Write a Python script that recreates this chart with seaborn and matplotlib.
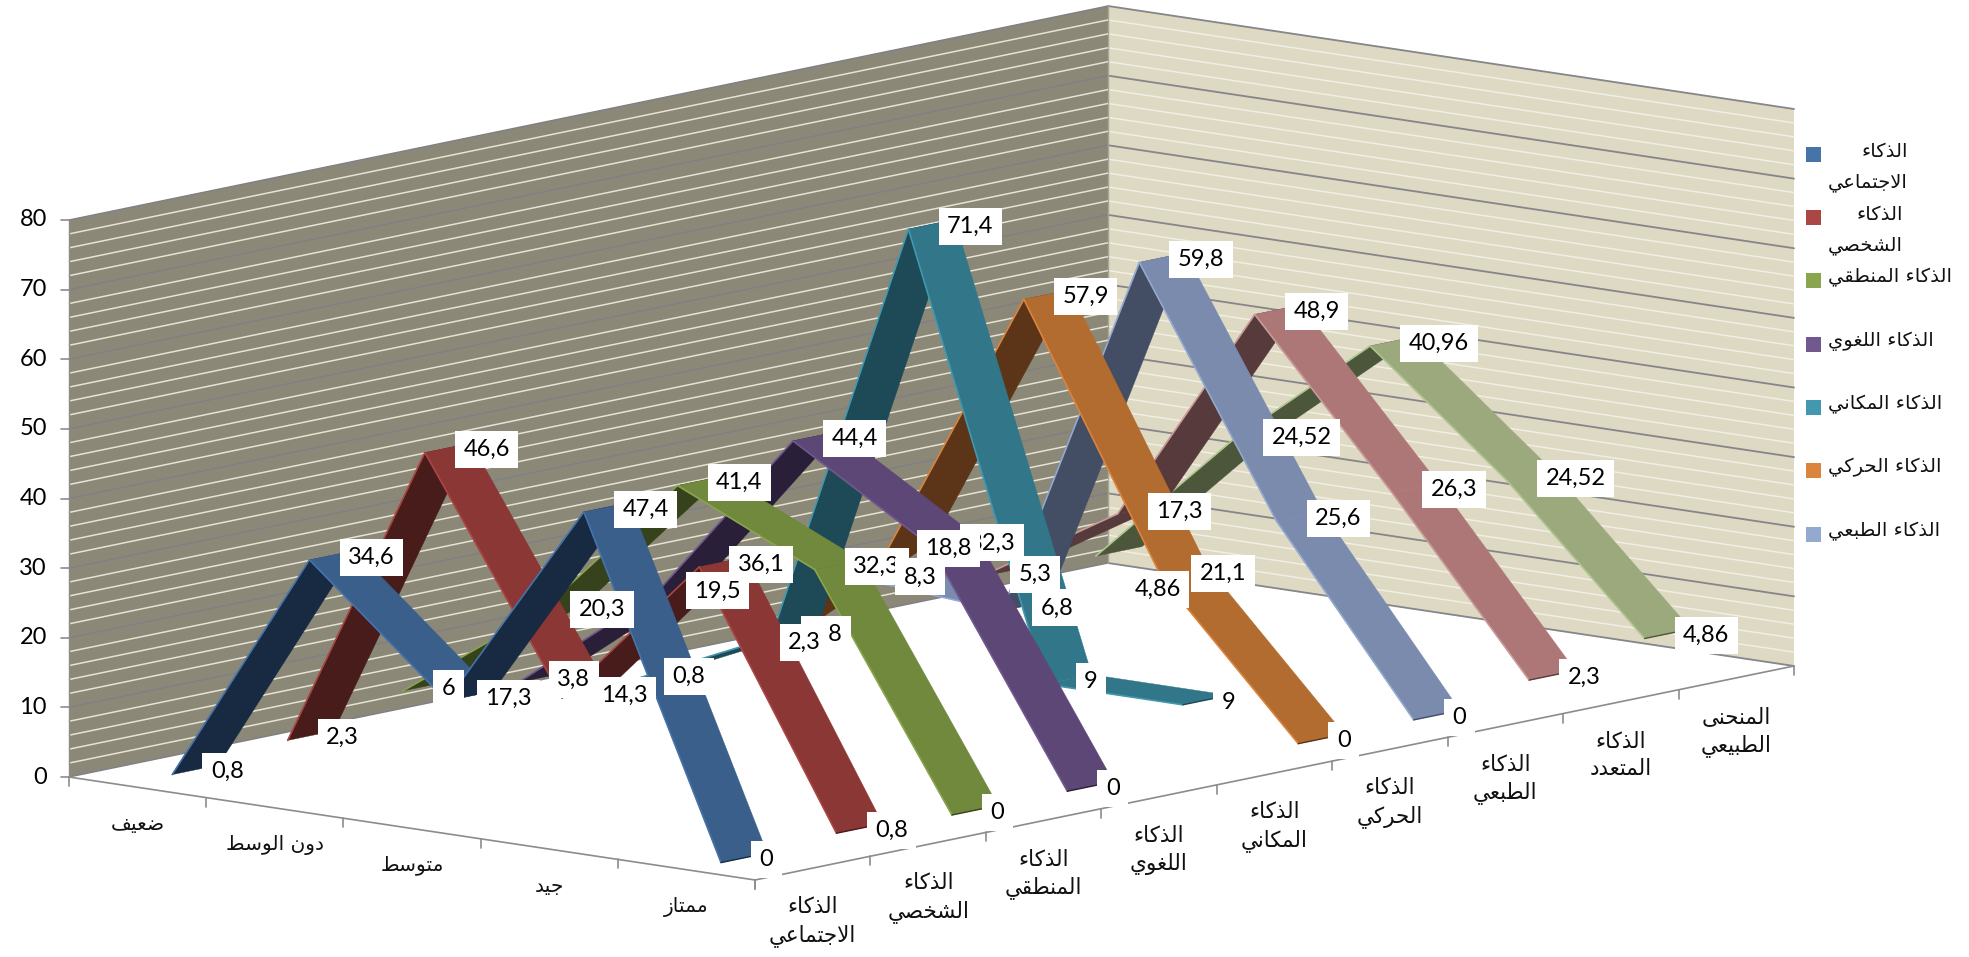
import unicodedata
import numpy as np
import matplotlib
matplotlib.use("Agg")
import matplotlib.pyplot as plt
from matplotlib.patches import Polygon, Rectangle
import seaborn as sns

# ---------- data ----------
categories = ["ضعيف", "دون الوسط", "متوسط", "جيد", "ممتاز"]
series_names = ["الذكاء\nالاجتماعي", "الذكاء\nالشخصي", "الذكاء\nالمنطقي", "الذكاء\nاللغوي",
                "الذكاء\nالمكاني", "الذكاء\nالحركي", "الذكاء\nالطبعي", "الذكاء\nالمتعدد",
                "المنحنى\nالطبيعي"]
legend_names = ["الذكاء\nالاجتماعي", "الذكاء\nالشخصي", "الذكاء المنطقي", "الذكاء اللغوي",
                "الذكاء المكاني", "الذكاء الحركي", "الذكاء الطبعي"]
social = [0.8, 34.6, 17.3, 47.4, 0]
personal = [2.3, 46.6, 14.3, 36.1, 0.8]
logical = [6, 20.3, 41.4, 32.3, 0]
linguistic = [3.8, 19.5, 44.4, 32.3, 0]
spatial = [0.8, 9.8, 71.4, 9, 9]
kinesthetic = [2.3, 18.8, 57.9, 21.1, 0]
natural = [8.3, 6.8, 59.8, 25.6, 0]
multiple = [5.3, 17.3, 48.9, 26.3, 2.3]
normal_curve = [4.86, 24.52, 40.96, 24.52, 4.86]
all_series = [social, personal, logical, linguistic, spatial, kinesthetic, natural, multiple, normal_curve]

# ---------- colours ----------
edge_cols = ["#4674A8", "#AA4643", "#89A54E", "#71588F", "#4198AF", "#DB843D", "#93A9CF", "#C99A98", "#AFC68F"]
lit_cols = ["#3A5F8B", "#8A3735", "#71893C", "#5D4777", "#317689", "#B36C30", "#7A8BAD", "#AE7777", "#9BA97C"]
dark_cols = ["#182A42", "#471C1A", "#36421C", "#2A1F38", "#1D4A56", "#5C3417", "#434D63", "#573A3B", "#4C563B"]

# ---------- layout ----------
W, H = 1969, 957
ORIGIN = np.array([69.0, 777.0])
AXIS_X = np.array([686.0, 103.0])    # along the category axis
AXIS_Y = np.array([1039.0, -214.0])  # along the series axis
PX_PER_UNIT = 557.0 / 80.0           # vertical pixels per value unit
YMAX = 80
RIBBON_HALF = 0.4 / 9 / 2
LABEL_NUDGE = {(8, 0): (0, 36)}
NO_LEFT_JOIN = set("اأإآدذرزوؤةىء")


def proj(x, y, z=0.0):
    p = ORIGIN + AXIS_X * x + AXIS_Y * y
    return np.array([p[0], p[1] - PX_PER_UNIT * z])


def shape_line(s):
    """Contextual Arabic forms in visual order, as matplotlib has no shaping."""
    out = []
    i, n = 0, len(s)
    is_ar = lambda c: "\u0621" <= c <= "\u064a"
    while i < n:
        c = s[i]
        if not is_ar(c):
            out.append(c)
            i += 1
            continue
        joins_prev = i > 0 and is_ar(s[i - 1]) and s[i - 1] not in NO_LEFT_JOIN and c != "ء"
        if c == "ل" and i + 1 < n and s[i + 1] == "ا":
            kind = "FINAL" if joins_prev else "ISOLATED"
            out.append(unicodedata.lookup(f"ARABIC LIGATURE LAM WITH ALEF {kind} FORM"))
            i += 2
            continue
        joins_next = i + 1 < n and is_ar(s[i + 1]) and c not in NO_LEFT_JOIN and s[i + 1] != "ء"
        kind = {(0, 0): "ISOLATED", (1, 0): "FINAL", (0, 1): "INITIAL", (1, 1): "MEDIAL"}[(int(joins_prev), int(joins_next))]
        out.append(unicodedata.lookup(f"{unicodedata.name(c)} {kind} FORM"))
        i += 1
    return "".join(reversed(out))


def shape(s):
    return "\n".join(shape_line(l) for l in s.split("\n"))


sns.set_theme(style="white")
plt.rcParams["font.family"] = ["Lato", "DejaVu Sans"]

fig = plt.figure(figsize=(W / 100, H / 100), dpi=100)
ax = fig.add_axes([0, 0, 1, 1])
ax.axis("off")
ax.set_xlim(0, W)
ax.set_ylim(H, 0)


def seg(p, q, color, lw, z):
    sns.lineplot(x=[p[0], q[0]], y=[p[1], q[1]], sort=False, estimator=None, color=color,
                 linewidth=lw, ax=ax, zorder=z, legend=False)


# ---------- walls ----------
left_wall = [proj(0, 0), proj(0, 1), proj(0, 1, YMAX), proj(0, 0, YMAX)]
right_wall = [proj(0, 1), proj(1, 1), proj(1, 1, YMAX), proj(0, 1, YMAX)]
ax.add_patch(Polygon(left_wall, closed=True, fc="#8B8877", ec="none", zorder=1))
ax.add_patch(Polygon(right_wall, closed=True, fc="#DDD9C3", ec="none", zorder=1))
for v in np.arange(0, YMAX + 1, 2):
    major = v % 10 == 0
    seg(proj(0, 0, v), proj(0, 1, v), "#7F7F86" if major else "#E6E3D3", 1.0 if major else 1.1, 2)
    seg(proj(0, 1, v), proj(1, 1, v), "#85858A" if major else "#F1EEE3", 1.3 if major else 1.1, 2)
seg(proj(0, 1), proj(0, 1, YMAX), "#A8A695", 1.0, 2)

# ---------- axes ----------
AXIS_C = "#8C8C8C"
seg(proj(0, 0), proj(1, 0), AXIS_C, 1.2, 3)
seg(proj(1, 0), proj(1, 1), AXIS_C, 1.2, 3)
seg(proj(0, 0), proj(0, 0, YMAX), AXIS_C, 1.0, 3)
for v in range(0, YMAX + 1, 10):
    p = proj(0, 0, v)
    seg(p, p + [-8, 0], AXIS_C, 1.2, 3)
    ax.text(p[0] - 22, p[1], str(v), ha="right", va="center", fontsize=17, color="black", zorder=5)
for i in range(len(categories) + 1):
    p = proj(i / len(categories), 0)
    seg(p, p + [0, 9], AXIS_C, 1.2, 3)
for j in range(len(all_series) + 1):
    p = proj(1, j / len(all_series))
    seg(p, p + [0, 9], AXIS_C, 1.2, 3)
for i, c in enumerate(categories):
    p = proj((i + 0.5) / len(categories), 0)
    ax.text(p[0], p[1] + 37, shape(c), ha="center", va="center", fontsize=14.5, color="#111111",
            family="DejaVu Sans", zorder=5)
for j, s in enumerate(series_names):
    p = proj(1, (j + 0.5) / len(all_series))
    ax.text(p[0], p[1] + 54, shape(s), ha="center", va="center", fontsize=15.5, color="#111111",
            family="DejaVu Sans", linespacing=1.4, multialignment="center", zorder=5)

# ---------- ribbons: far series first, and near segments over far ones ----------
n_s, n_c = len(all_series), len(categories)
z = 10
for j in range(n_s - 1, -1, -1):
    vals = all_series[j]
    yc = (j + 0.5) / n_s
    y0, y1 = yc - RIBBON_HALF, yc + RIBBON_HALF
    for i in range(n_c - 1):
        x0, x1 = (i + 0.5) / n_c, (i + 1.5) / n_c
        a, b = proj(x0, y0, vals[i]), proj(x1, y0, vals[i + 1])
        c, d = proj(x1, y1, vals[i + 1]), proj(x0, y1, vals[i])
        e1, e2 = b - a, d - a
        facing_up = e1[0] * e2[1] - e1[1] * e2[0] < 0
        col = lit_cols[j] if facing_up else dark_cols[j]
        z += 1
        ax.add_patch(Polygon([a, b, c, d], closed=True, fc=col, ec=col, lw=0.3, zorder=z))
        z += 1
        seg(a, b, edge_cols[j], 1.2, z)
    a, d = proj((n_c - 0.5) / n_c, y0, vals[-1]), proj((n_c - 0.5) / n_c, y1, vals[-1])
    z += 1
    seg(a, d, dark_cols[j], 1.0, z)

# ---------- data labels: later series sit over earlier ones ----------
renderer = fig.canvas.get_renderer()
BOX_H = 37
PAD_X = 8.5
for j, vals in enumerate(all_series):
    for i, v in enumerate(vals):
        p = proj((i + 0.5) / n_c, (j + 0.5) / n_s, v)
        dx, dy = LABEL_NUDGE.get((j, i), (0, 0))
        left, cy = p[0] + 7 + dx, p[1] + 2 + dy
        z += 2
        t = ax.text(left + PAD_X, cy, f"{v:g}".replace(".", ","), ha="left", va="center",
                    fontsize=17, color="black", zorder=z)
        tw = t.get_window_extent(renderer).width
        ax.add_patch(Rectangle((left, cy - BOX_H / 2), tw + 2 * PAD_X, BOX_H, fc="white", ec="none", zorder=z - 1))

# ---------- legend ----------
z += 2
legend_y = [154, 217, 280, 344, 407, 470, 534]
for name, col, ly in zip(legend_names, edge_cols, legend_y):
    ax.add_patch(Polygon([(1806, ly - 7.5), (1821, ly - 7.5), (1821, ly + 7.5), (1806, ly + 7.5)],
                         closed=True, fc=col, ec="none", zorder=z))
    ax.text(1828, ly + (13 if "\n" in name else -3), shape(name), ha="left", va="center", fontsize=14,
            color="#111111", family="DejaVu Sans", multialignment="right", linespacing=1.75, zorder=z)

ax.set_xlim(0, W)
ax.set_ylim(H, 0)
fig.savefig("out.png", dpi=100)
